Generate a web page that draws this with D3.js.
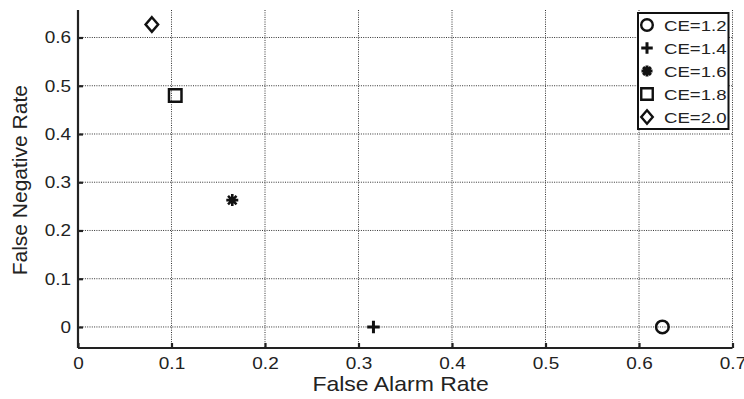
<!DOCTYPE html>
<html>
<head>
<meta charset="utf-8">
<script src="https://cdn.jsdelivr.net/npm/d3@7"></script>
<style>
  body { margin: 0; background: #fff; }
  text { font-family: "Liberation Sans", Arial, sans-serif; fill: #222; }
</style>
</head>
<body>
<div id="plot"></div>
<script>
let categories = ["CE=1.2", "CE=1.4", "CE=1.6", "CE=1.8", "CE=2.0"]
let markers = ["circle", "plus", "star", "square", "diamond"]
let falseAlarm = [0.625, 0.316, 0.165, 0.104, 0.079]
let falseNegative = [0, 0, 0.263, 0.48, 0.627]
let xTicks = [0, 0.1, 0.2, 0.3, 0.4, 0.5, 0.6, 0.7]
let yTicks = [0, 0.1, 0.2, 0.3, 0.4, 0.5, 0.6]

let svgWidth = 744
let svgHeight = 399
let stretch = 1.15  // the source figure is a bit wider than tall

let margin = { top: 10, right: 12, bottom: 51, left: 78 }
let width = svgWidth - margin.left - margin.right
let height = svgHeight - margin.top - margin.bottom

let svg = d3.select("#plot")
  .append("svg")
  .attr("width", svgWidth)
  .attr("height", svgHeight)

let chart = svg.append("g")
  .attr("transform", `translate(${margin.left}, ${margin.top})`)

let x = d3.scaleLinear().domain([0, 0.7]).range([0, 654.5])
let y = d3.scaleLinear().domain([-0.0436, 0.657]).range([height, 0])

// dotted grid
chart.selectAll(".vgrid")
  .data(xTicks.slice(1))
  .enter()
  .append("line")
  .attr("x1", d => x(d)).attr("x2", d => x(d))
  .attr("y1", 0).attr("y2", height)
  .attr("stroke", "#333")
  .attr("stroke-width", 1)
  .attr("stroke-dasharray", "1,1.3")

chart.selectAll(".hgrid")
  .data(yTicks)
  .enter()
  .append("line")
  .attr("x1", 0).attr("x2", x(0.7))
  .attr("y1", d => y(d)).attr("y2", d => y(d))
  .attr("stroke", "#333")
  .attr("stroke-width", 1)
  .attr("stroke-dasharray", "1,1.3")

let xAxis = d3.axisBottom(x)
  .tickValues(xTicks)
  .tickFormat(d3.format("~g"))
  .tickSize(-5)
  .tickPadding(9)
let yAxis = d3.axisLeft(y)
  .tickValues(yTicks)
  .tickFormat(d3.format("~g"))
  .tickSize(-5)
  .tickPadding(7 / stretch)

let gx = chart.append("g")
  .attr("transform", `translate(0, ${height})`)
  .call(xAxis)
let gy = chart.append("g").call(yAxis)

for (let g of [gx, gy]) {
  g.select(".domain").attr("stroke", "#222").attr("stroke-width", 2.2)
  g.selectAll(".tick line").attr("stroke", "#222").attr("stroke-width", 2.2)
  g.selectAll(".tick text")
    .style("font-size", "16.5px")
    .attr("fill", "#222")
    .attr("transform", `scale(${stretch},1)`)
}
gx.select(".domain").attr("d", `M0,0H${x(0.7)}`)
gy.select(".domain").attr("d", `M0,${height}V0`)

function markerPath(type, s) {
  if (type === "circle") return d3.symbol(d3.symbolCircle, s * s * 0.8)()
  if (type === "square") return `M${-s/2},${-s/2}h${s}v${s}h${-s}Z`
  if (type === "diamond") return `M0,${-s*0.58}L${s*0.5},0L0,${s*0.58}L${-s*0.5},0Z`
  if (type === "plus") return `M${-s/2},0H${s/2}M0,${-s/2}V${s/2}`
  let r = s / 2, d = r * 0.707
  return `M${-r},0H${r}M0,${-r}V${r}M${-d},${-d}L${d},${d}M${-d},${d}L${d},${-d}`
}

chart.selectAll(".pt")
  .data(categories)
  .enter()
  .append("path")
  .attr("transform", (d, i) => `translate(${x(falseAlarm[i])}, ${y(falseNegative[i])})`)
  .attr("d", (d, i) => markerPath(markers[i], markers[i] === "star" ? 12 : 12.5))
  .attr("fill", "none")
  .attr("stroke", "#111")
  .attr("stroke-width", (d, i) => markers[i] === "plus" ? 3 : (markers[i] === "star" ? 2.6 : 2.5))

// legend
let legend = svg.append("g").attr("transform", "translate(638, 13)")
legend.append("rect")
  .attr("width", 90.5).attr("height", 116)
  .attr("fill", "#fff")
  .attr("stroke", "#111")
  .attr("stroke-width", 2)

let rows = legend.selectAll(".row")
  .data(categories)
  .enter()
  .append("g")
  .attr("transform", (d, i) => `translate(0, ${12 + i * 23})`)

rows.append("path")
  .attr("transform", "translate(9, 0)")
  .attr("d", (d, i) => markerPath(markers[i], markers[i] === "star" ? 11 : 11.5))
  .attr("fill", "none")
  .attr("stroke", "#111")
  .attr("stroke-width", (d, i) => markers[i] === "plus" || markers[i] === "star" ? 3 : 2.4)

rows.append("text")
  .attr("transform", `translate(26, 0) scale(${stretch + 0.05},1)`)
  .attr("dy", "0.36em")
  .style("font-size", "15.5px")
  .text(d => d)

svg.append("text")
  .attr("transform", `translate(${margin.left + x(0.345)}, 391) scale(${stretch},1)`)
  .attr("text-anchor", "middle")
  .style("font-size", "20px")
  .text("False Alarm Rate")

svg.append("text")
  .attr("transform", `translate(27, ${margin.top + y(0.3) - 2}) rotate(-90)`)
  .attr("text-anchor", "middle")
  .style("font-size", "21px")
  .text("False Negative Rate")
</script>
</body>
</html>
